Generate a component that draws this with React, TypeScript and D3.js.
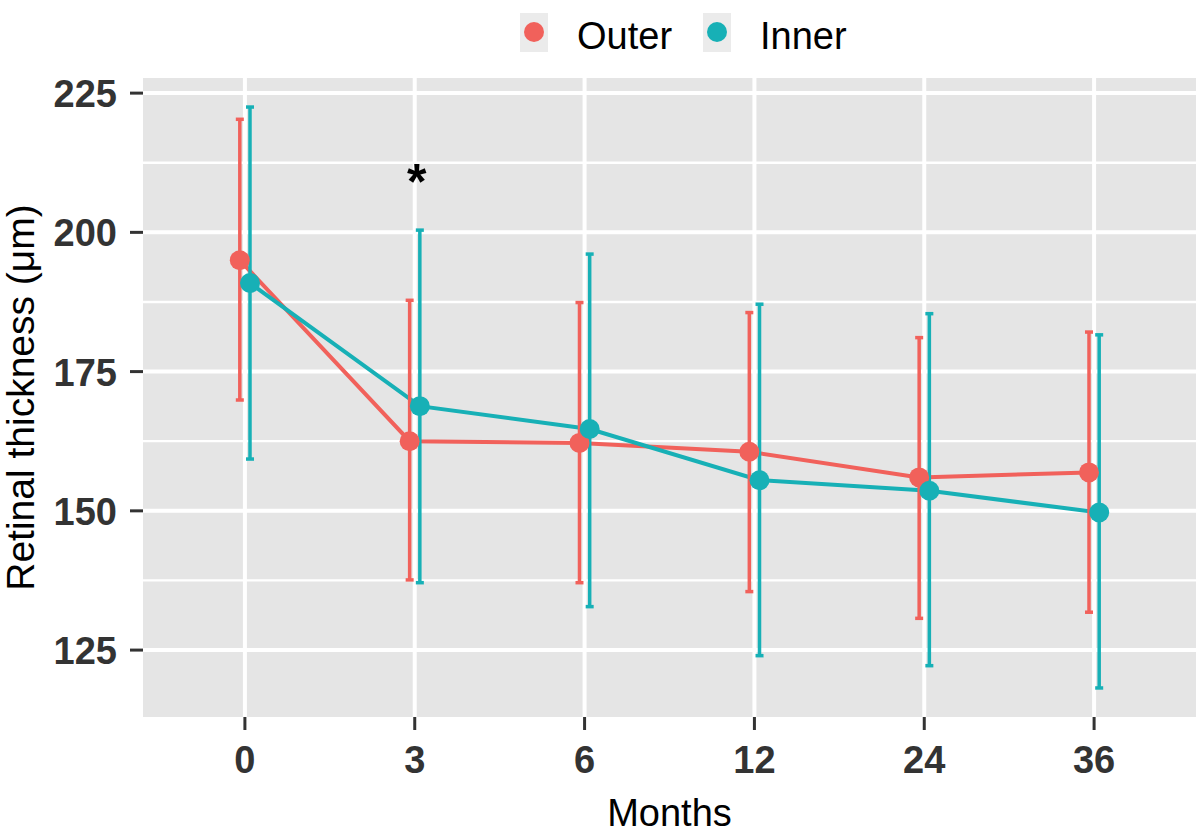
import React from 'react'
import * as d3 from 'd3'

const months = ['0', '3', '6', '12', '24', '36']
const outerMean = [195.0, 162.5, 162.2, 160.6, 156.0, 156.9]
const outerUpper = [220.3, 187.8, 187.4, 185.6, 181.1, 182.1]
const outerLower = [169.9, 137.6, 137.1, 135.5, 130.7, 131.8]
const innerMean = [190.9, 168.8, 164.7, 155.5, 153.6, 149.7]
const innerUpper = [222.5, 200.4, 196.1, 187.1, 185.4, 181.6]
const innerLower = [159.3, 137.1, 132.8, 124.0, 122.2, 118.2]
const yTicks = [125, 150, 175, 200, 225]
const yMinor = [137.5, 162.5, 187.5, 212.5]
const starMonth = '3'
const starValue = 210

const width = 1200
const height = 834
const margin = { left: 143, right: 4, top: 78, bottom: 117 }
const font = '"Liberation Sans", Arial, sans-serif'

const series = [
  { name: 'Outer', color: '#f1615b', mean: outerMean, upper: outerUpper, lower: outerLower, dodge: -1 },
  { name: 'Inner', color: '#17b0b6', mean: innerMean, upper: innerUpper, lower: innerLower, dodge: 1 }
]

const App = () => {
  const all = [...outerUpper, ...outerLower, ...innerUpper, ...innerLower]
  const [lo, hi] = d3.extent(all) as [number, number]
  const pad = (hi - lo) * 0.05

  const xScale = d3
    .scalePoint()
    .domain(months)
    .range([margin.left, width - margin.right])
    .padding(0.6)

  const yScale = d3
    .scaleLinear()
    .domain([lo - pad, hi + pad])
    .range([height - margin.bottom, margin.top])

  const off = xScale.step() * 0.03
  const px = (m: string, d: number) => (xScale(m) as number) + d * off

  const line = d3
    .line<[number, number]>()
    .x(d => d[0])
    .y(d => d[1])

  const panelBottom = height - margin.bottom

  return (
    <svg width={width} height={height} style={{ position: 'absolute', left: 0, top: 0, background: '#fff' }}>
      <rect x={margin.left} y={margin.top} width={width - margin.right - margin.left} height={panelBottom - margin.top} fill="#e5e5e5" />
      {yMinor.map(v => (
        <line key={'mn' + v} x1={margin.left} x2={width - margin.right} y1={yScale(v)} y2={yScale(v)} stroke="#fff" strokeWidth={2.3} />
      ))}
      {yTicks.map(v => (
        <line key={'mj' + v} x1={margin.left} x2={width - margin.right} y1={yScale(v)} y2={yScale(v)} stroke="#fff" strokeWidth={4} />
      ))}
      {months.map(m => (
        <line key={'vx' + m} x1={xScale(m)} x2={xScale(m)} y1={margin.top} y2={panelBottom} stroke="#fff" strokeWidth={4} />
      ))}

      {series.map(s => (
        <path
          key={'ln' + s.name}
          d={line(months.map((m, i) => [px(m, s.dodge), yScale(s.mean[i])])) as string}
          fill="none"
          stroke={s.color}
          strokeWidth={4}
        />
      ))}
      {series.map(s =>
        months.map((m, i) => {
          const x = px(m, s.dodge)
          return (
            <g key={'eb' + s.name + m} stroke={s.color} strokeWidth={3.5}>
              <line x1={x} x2={x} y1={yScale(s.upper[i])} y2={yScale(s.lower[i])} />
              <line x1={x - 4} x2={x + 4} y1={yScale(s.upper[i])} y2={yScale(s.upper[i])} />
              <line x1={x - 4} x2={x + 4} y1={yScale(s.lower[i])} y2={yScale(s.lower[i])} />
            </g>
          )
        })
      )}
      {series.map(s =>
        months.map((m, i) => (
          <circle key={'pt' + s.name + m} cx={px(m, s.dodge)} cy={yScale(s.mean[i])} r={10} fill={s.color} />
        ))
      )}

      <text x={(xScale(starMonth) as number) + 2} y={yScale(starValue) + 22} textAnchor="middle" fontFamily={font} fontSize={50} fontWeight="bold" fill="#000">
        *
      </text>

      {yTicks.map(v => (
        <g key={'yt' + v}>
          <line x1={margin.left - 13} x2={margin.left} y1={yScale(v)} y2={yScale(v)} stroke="#333" strokeWidth={3} />
          <text x={margin.left - 26} y={yScale(v) + 14} textAnchor="end" fontFamily={font} fontSize={38} fontWeight="bold" fill="#333">
            {v}
          </text>
        </g>
      ))}
      {months.map(m => (
        <g key={'xt' + m}>
          <line x1={xScale(m)} x2={xScale(m)} y1={panelBottom} y2={panelBottom + 13} stroke="#333" strokeWidth={3} />
          <text x={xScale(m)} y={panelBottom + 56} textAnchor="middle" fontFamily={font} fontSize={38} fontWeight="bold" fill="#333">
            {m}
          </text>
        </g>
      ))}

      <text x={(margin.left + width - margin.right) / 2} y={826} textAnchor="middle" fontFamily={font} fontSize={38} fill="#000">
        Months
      </text>
      <text
        transform={`translate(34, ${(margin.top + panelBottom) / 2}) rotate(-90)`}
        textAnchor="middle"
        fontFamily={font}
        fontSize={39}
        fill="#000"
      >
        Retinal thickness (μm)
      </text>

      {series.map((s, i) => {
        const bx = i === 0 ? 520 : 703
        const tx = i === 0 ? 577 : 760
        return (
          <g key={'lg' + s.name}>
            <rect x={bx} y={13} width={28} height={39} fill="#ebebeb" />
            <circle cx={bx + 14} cy={32} r={10} fill={s.color} />
            <text x={tx} y={49} fontFamily={font} fontSize={38} fill="#000">
              {s.name}
            </text>
          </g>
        )
      })}
    </svg>
  )
}

export default App
